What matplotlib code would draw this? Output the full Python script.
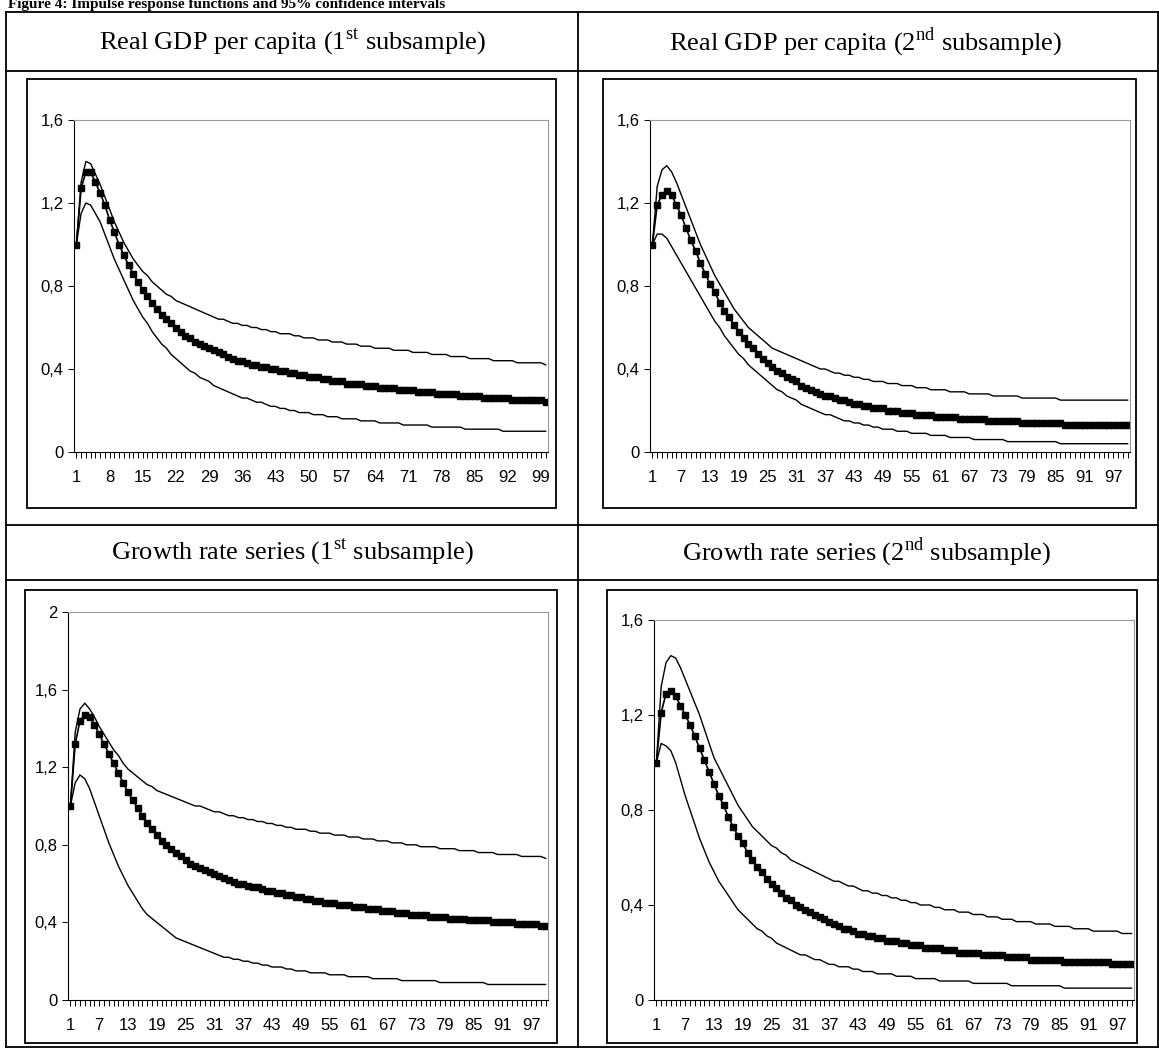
import matplotlib
matplotlib.use("Agg")
import matplotlib.pyplot as plt
from matplotlib.lines import Line2D
from matplotlib.patches import Rectangle
from matplotlib.ticker import FuncFormatter

horizon = list(range(1, 101))

gdp1_mid = [1.00,1.27,1.35,1.35,1.30,1.25,1.19,1.12,1.06,1.00,
            0.95,0.90,0.86,0.82,0.78,0.75,0.72,0.69,0.66,0.64,
            0.62,0.60,0.58,0.56,0.55,0.53,0.52,0.51,0.50,0.49,
            0.48,0.47,0.46,0.45,0.44,0.44,0.43,0.42,0.42,0.41,
            0.41,0.40,0.40,0.39,0.39,0.38,0.38,0.37,0.37,0.36,
            0.36,0.36,0.35,0.35,0.34,0.34,0.34,0.33,0.33,0.33,
            0.33,0.32,0.32,0.32,0.31,0.31,0.31,0.31,0.30,0.30,
            0.30,0.30,0.29,0.29,0.29,0.29,0.28,0.28,0.28,0.28,
            0.28,0.27,0.27,0.27,0.27,0.27,0.26,0.26,0.26,0.26,
            0.26,0.26,0.25,0.25,0.25,0.25,0.25,0.25,0.25,0.24]
gdp1_up = [1.00,1.30,1.40,1.39,1.34,1.29,1.23,1.17,1.11,1.06,
           1.01,0.97,0.93,0.90,0.87,0.85,0.82,0.80,0.78,0.76,
           0.75,0.73,0.72,0.71,0.70,0.69,0.68,0.67,0.66,0.65,
           0.64,0.64,0.63,0.62,0.62,0.61,0.61,0.60,0.60,0.59,
           0.59,0.58,0.58,0.57,0.57,0.57,0.56,0.56,0.55,0.55,
           0.55,0.54,0.54,0.54,0.53,0.53,0.53,0.52,0.52,0.52,
           0.51,0.51,0.51,0.50,0.50,0.50,0.50,0.49,0.49,0.49,
           0.49,0.48,0.48,0.48,0.48,0.47,0.47,0.47,0.47,0.46,
           0.46,0.46,0.46,0.45,0.45,0.45,0.45,0.45,0.44,0.44,
           0.44,0.44,0.44,0.43,0.43,0.43,0.43,0.43,0.43,0.42]
gdp1_lo = [1.00,1.15,1.20,1.19,1.15,1.11,1.05,0.99,0.93,0.88,
           0.83,0.78,0.73,0.69,0.65,0.62,0.58,0.55,0.52,0.50,
           0.47,0.45,0.43,0.41,0.39,0.38,0.36,0.35,0.34,0.32,
           0.31,0.30,0.29,0.28,0.27,0.26,0.26,0.25,0.24,0.24,
           0.23,0.22,0.22,0.21,0.21,0.20,0.20,0.19,0.19,0.19,
           0.18,0.18,0.18,0.17,0.17,0.17,0.16,0.16,0.16,0.16,
           0.15,0.15,0.15,0.15,0.14,0.14,0.14,0.14,0.14,0.13,
           0.13,0.13,0.13,0.13,0.13,0.12,0.12,0.12,0.12,0.12,
           0.12,0.12,0.11,0.11,0.11,0.11,0.11,0.11,0.11,0.11,
           0.10,0.10,0.10,0.10,0.10,0.10,0.10,0.10,0.10,0.10]

gdp2_mid = [1.00,1.19,1.24,1.26,1.24,1.19,1.14,1.08,1.02,0.97,
            0.91,0.86,0.81,0.77,0.72,0.68,0.65,0.61,0.58,0.55,
            0.52,0.50,0.47,0.45,0.43,0.41,0.39,0.38,0.36,0.35,
            0.34,0.32,0.31,0.30,0.29,0.28,0.27,0.27,0.26,0.25,
            0.25,0.24,0.23,0.23,0.22,0.22,0.21,0.21,0.21,0.20,
            0.20,0.20,0.19,0.19,0.19,0.18,0.18,0.18,0.18,0.17,
            0.17,0.17,0.17,0.17,0.16,0.16,0.16,0.16,0.16,0.16,
            0.15,0.15,0.15,0.15,0.15,0.15,0.15,0.14,0.14,0.14,
            0.14,0.14,0.14,0.14,0.14,0.14,0.13,0.13,0.13,0.13,
            0.13,0.13,0.13,0.13,0.13,0.13,0.13,0.13,0.13,0.13]
gdp2_up = [1.00,1.28,1.36,1.38,1.35,1.30,1.24,1.18,1.12,1.06,
           1.00,0.95,0.90,0.85,0.81,0.77,0.73,0.69,0.66,0.63,
           0.60,0.58,0.56,0.54,0.52,0.50,0.49,0.48,0.47,0.46,
           0.45,0.44,0.43,0.42,0.41,0.40,0.40,0.39,0.38,0.38,
           0.37,0.37,0.36,0.36,0.35,0.35,0.34,0.34,0.34,0.33,
           0.33,0.33,0.32,0.32,0.32,0.31,0.31,0.31,0.30,0.30,
           0.30,0.30,0.29,0.29,0.29,0.29,0.28,0.28,0.28,0.28,
           0.28,0.27,0.27,0.27,0.27,0.27,0.27,0.26,0.26,0.26,
           0.26,0.26,0.26,0.26,0.26,0.25,0.25,0.25,0.25,0.25,
           0.25,0.25,0.25,0.25,0.25,0.25,0.25,0.25,0.25,0.25]
gdp2_lo = [1.00,1.05,1.05,1.03,0.99,0.95,0.91,0.87,0.83,0.79,
           0.75,0.71,0.67,0.63,0.60,0.56,0.53,0.50,0.47,0.45,
           0.42,0.40,0.38,0.36,0.34,0.32,0.30,0.29,0.27,0.26,
           0.25,0.23,0.22,0.21,0.20,0.19,0.18,0.18,0.17,0.16,
           0.15,0.15,0.14,0.14,0.13,0.13,0.12,0.12,0.11,0.11,
           0.11,0.10,0.10,0.10,0.09,0.09,0.09,0.09,0.08,0.08,
           0.08,0.08,0.07,0.07,0.07,0.07,0.07,0.06,0.06,0.06,
           0.06,0.06,0.06,0.06,0.05,0.05,0.05,0.05,0.05,0.05,
           0.05,0.05,0.05,0.05,0.05,0.04,0.04,0.04,0.04,0.04,
           0.04,0.04,0.04,0.04,0.04,0.04,0.04,0.04,0.04,0.04]

gr1_mid = [1.00,1.32,1.44,1.47,1.46,1.42,1.37,1.32,1.27,1.22,
           1.17,1.12,1.07,1.03,0.99,0.95,0.91,0.88,0.85,0.82,
           0.80,0.78,0.76,0.74,0.72,0.70,0.69,0.68,0.67,0.66,
           0.65,0.64,0.63,0.62,0.61,0.60,0.60,0.59,0.58,0.58,
           0.57,0.56,0.56,0.55,0.55,0.54,0.54,0.53,0.53,0.52,
           0.52,0.51,0.51,0.50,0.50,0.50,0.49,0.49,0.49,0.48,
           0.48,0.48,0.47,0.47,0.47,0.46,0.46,0.46,0.45,0.45,
           0.45,0.44,0.44,0.44,0.44,0.43,0.43,0.43,0.43,0.42,
           0.42,0.42,0.42,0.41,0.41,0.41,0.41,0.41,0.40,0.40,
           0.40,0.40,0.40,0.39,0.39,0.39,0.39,0.39,0.38,0.38]
gr1_up = [1.00,1.38,1.50,1.53,1.50,1.46,1.41,1.37,1.33,1.29,
          1.26,1.22,1.19,1.17,1.15,1.13,1.11,1.10,1.08,1.07,
          1.06,1.05,1.04,1.03,1.02,1.01,1.00,1.00,0.99,0.98,
          0.97,0.97,0.96,0.95,0.95,0.94,0.94,0.93,0.93,0.92,
          0.92,0.91,0.91,0.90,0.90,0.89,0.89,0.88,0.88,0.88,
          0.87,0.87,0.86,0.86,0.86,0.85,0.85,0.85,0.84,0.84,
          0.84,0.83,0.83,0.83,0.82,0.82,0.82,0.81,0.81,0.81,
          0.80,0.80,0.80,0.79,0.79,0.79,0.79,0.78,0.78,0.78,
          0.78,0.77,0.77,0.77,0.77,0.76,0.76,0.76,0.76,0.75,
          0.75,0.75,0.75,0.75,0.74,0.74,0.74,0.74,0.74,0.73]
gr1_lo = [1.00,1.12,1.16,1.14,1.09,1.02,0.95,0.88,0.81,0.75,
          0.69,0.64,0.59,0.55,0.51,0.47,0.44,0.42,0.40,0.38,
          0.36,0.34,0.32,0.31,0.30,0.29,0.28,0.27,0.26,0.25,
          0.24,0.23,0.22,0.22,0.21,0.21,0.20,0.20,0.19,0.19,
          0.18,0.18,0.17,0.17,0.17,0.16,0.16,0.15,0.15,0.15,
          0.14,0.14,0.14,0.14,0.13,0.13,0.13,0.13,0.12,0.12,
          0.12,0.12,0.12,0.11,0.11,0.11,0.11,0.11,0.11,0.10,
          0.10,0.10,0.10,0.10,0.10,0.10,0.10,0.09,0.09,0.09,
          0.09,0.09,0.09,0.09,0.09,0.09,0.09,0.08,0.08,0.08,
          0.08,0.08,0.08,0.08,0.08,0.08,0.08,0.08,0.08,0.08]

gr2_mid = [1.00,1.21,1.29,1.30,1.28,1.24,1.20,1.16,1.11,1.06,
           1.01,0.96,0.91,0.86,0.82,0.77,0.73,0.69,0.66,0.62,
           0.59,0.56,0.54,0.51,0.49,0.47,0.45,0.43,0.42,0.40,
           0.39,0.38,0.37,0.36,0.35,0.34,0.33,0.32,0.31,0.30,
           0.30,0.29,0.28,0.28,0.27,0.27,0.26,0.26,0.25,0.25,
           0.25,0.24,0.24,0.23,0.23,0.23,0.22,0.22,0.22,0.22,
           0.21,0.21,0.21,0.20,0.20,0.20,0.20,0.20,0.19,0.19,
           0.19,0.19,0.19,0.18,0.18,0.18,0.18,0.18,0.17,0.17,
           0.17,0.17,0.17,0.17,0.17,0.16,0.16,0.16,0.16,0.16,
           0.16,0.16,0.16,0.16,0.16,0.15,0.15,0.15,0.15,0.15]
gr2_up = [1.00,1.32,1.42,1.45,1.44,1.40,1.35,1.30,1.25,1.20,
          1.14,1.08,1.02,0.98,0.94,0.90,0.86,0.82,0.79,0.76,
          0.73,0.71,0.69,0.67,0.65,0.64,0.62,0.61,0.59,0.58,
          0.57,0.56,0.55,0.54,0.53,0.52,0.51,0.50,0.50,0.49,
          0.48,0.48,0.47,0.46,0.46,0.45,0.45,0.44,0.44,0.43,
          0.43,0.42,0.42,0.41,0.41,0.40,0.40,0.40,0.39,0.39,
          0.38,0.38,0.38,0.37,0.37,0.37,0.36,0.36,0.36,0.35,
          0.35,0.35,0.34,0.34,0.34,0.33,0.33,0.33,0.33,0.32,
          0.32,0.32,0.32,0.31,0.31,0.31,0.31,0.30,0.30,0.30,
          0.30,0.29,0.29,0.29,0.29,0.29,0.29,0.28,0.28,0.28]
gr2_lo = [1.00,1.08,1.07,1.05,1.00,0.93,0.86,0.80,0.74,0.68,
          0.63,0.58,0.54,0.50,0.47,0.44,0.41,0.38,0.36,0.34,
          0.32,0.30,0.29,0.27,0.26,0.24,0.23,0.22,0.21,0.20,
          0.19,0.19,0.18,0.17,0.17,0.16,0.15,0.15,0.14,0.14,
          0.14,0.13,0.13,0.12,0.12,0.12,0.11,0.11,0.11,0.11,
          0.10,0.10,0.10,0.10,0.09,0.09,0.09,0.09,0.09,0.08,
          0.08,0.08,0.08,0.08,0.08,0.08,0.07,0.07,0.07,0.07,
          0.07,0.07,0.07,0.07,0.06,0.06,0.06,0.06,0.06,0.06,
          0.06,0.06,0.06,0.06,0.06,0.05,0.05,0.05,0.05,0.05,
          0.05,0.05,0.05,0.05,0.05,0.05,0.05,0.05,0.05,0.05]

panel_titles = [r"Real GDP per capita (1$^{\mathrm{st}}$ subsample)",
                r"Real GDP per capita (2$^{\mathrm{nd}}$ subsample)",
                r"Growth rate series (1$^{\mathrm{st}}$ subsample)",
                r"Growth rate series (2$^{\mathrm{nd}}$ subsample)"]
y_max = [1.6, 1.6, 2.0, 1.6]
x_step = [7, 6, 6, 6]
series = [(gdp1_mid, gdp1_up, gdp1_lo), (gdp2_mid, gdp2_up, gdp2_lo),
          (gr1_mid, gr1_up, gr1_lo), (gr2_mid, gr2_up, gr2_lo)]

plt.rcParams['mathtext.fontset'] = 'custom'
plt.rcParams['mathtext.rm'] = 'Liberation Serif'

W, H = 1159, 1048
fig = plt.figure(figsize=(W/100, H/100), dpi=100)

def fx(px): return px / W
def fy(py): return 1 - py / H

def hline(y, x0, x1):
    fig.add_artist(Line2D([fx(x0), fx(x1)], [fy(y), fy(y)], color='black', lw=1.3))
def vline(x, y0, y1):
    fig.add_artist(Line2D([fx(x), fx(x)], [fy(y0), fy(y1)], color='black', lw=1.3))

fig.text(fx(8), fy(11), "Figure 4: Impulse response functions and 95% confidence intervals",
         fontsize=11, fontweight='bold', family='Liberation Serif', va='bottom', ha='left')

hline(12, 6, 1158); hline(71, 6, 1158); hline(525, 6, 1158); hline(580, 6, 1158); hline(1047, 6, 1158)
vline(6, 12, 1048); vline(578, 12, 1048); vline(1158, 12, 1048)

title_pos = [(292, 42), (866, 42), (292, 552), (866, 552)]
boxes = [(27, 79, 556, 508), (603, 79, 1136, 508), (25, 590, 557, 1043), (607, 590, 1137, 1043)]
plots = [(74, 120, 548, 452), (650, 120, 1130, 452), (68, 612, 548, 1000), (654, 620, 1134, 1000)]

for i in range(4):
    tx, ty = title_pos[i]
    fig.text(fx(tx), fy(ty), panel_titles[i], fontsize=19, family='Liberation Serif',
             ha='center', va='center')
    bx0, by0, bx1, by1 = boxes[i]
    fig.add_artist(Rectangle((fx(bx0), fy(by1)), fx(bx1 - bx0), (by1 - by0) / H,
                             fill=False, edgecolor='black', lw=1.3))
    px0, py0, px1, py1 = plots[i]
    ax = fig.add_axes([fx(px0), fy(py1), fx(px1 - px0), (py1 - py0) / H])
    mid, up, lo = series[i]
    ax.plot(horizon, up, color='black', lw=1.0)
    ax.plot(horizon, lo, color='black', lw=1.0)
    ax.plot(horizon, mid, color='black', lw=1.2, marker='s', markersize=4)
    ax.set_xlim(0.5, 100.5)
    ax.set_ylim(0, y_max[i])
    ax.set_yticks([v * 0.4 for v in range(int(round(y_max[i] / 0.4)) + 1)])
    ax.yaxis.set_major_formatter(FuncFormatter(lambda v, p: ("%g" % round(v, 1)).replace('.', ',')))
    ax.set_xticks(list(range(1, 101, x_step[i])))
    ax.set_xticks(horizon, minor=True)
    for s in ['top', 'right']:
        ax.spines[s].set_color('#999999')
    for s in ['left', 'bottom']:
        ax.spines[s].set_color('black')
    ax.tick_params(axis='x', which='both', direction='out', length=4, width=0.7, labelsize=12, pad=9)
    ax.tick_params(axis='y', direction='out', length=4, width=0.7, labelsize=12)
    for lab in ax.get_xticklabels() + ax.get_yticklabels():
        lab.set_family('Liberation Sans')

fig.savefig("out.png", dpi=100)
